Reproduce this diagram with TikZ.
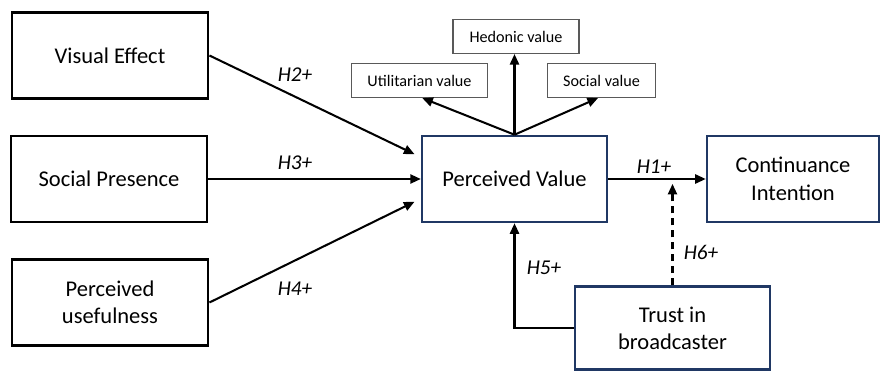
\documentclass[tikz,border=0pt]{standalone}
\usepackage{fontspec}
\setmainfont{Carlito}
\usetikzlibrary{arrows.meta,positioning}
\definecolor{navy}{HTML}{203864}
\definecolor{boxgray}{HTML}{595959}
\tikzset{
  construct/.style={draw=black, line width=2pt, minimum width=4.9cm, minimum height=2.15cm, align=center, font=\fontsize{16}{19.5}\selectfont},
  mainbox/.style={draw=navy, line width=1.8pt, minimum height=2.15cm, align=center, font=\fontsize{16}{20}\selectfont},
  valuebox/.style={draw=boxgray, line width=0.8pt, minimum height=0.85cm, align=center, font=\fontsize{11.5}{14}\selectfont},
  hyp/.style={font=\fontsize{15}{18}\selectfont\itshape},
  link/.style={line width=1.45pt, -{Triangle[length=7.5pt,width=6.5pt]}}
}
\begin{document}
\begin{tikzpicture}[x=0.025cm, y=-0.025cm]
\useasboundingbox (0,0) rectangle (882,372);

% Antecedents
\node[construct] (visual) at (110,55.5) {Visual Effect};
\node[construct] (presence) at (109,179) {Social Presence};
\node[construct] (useful) at (110,302.5) {Perceived\\usefulness};

% Perceived value and outcome
\node[mainbox, minimum width=4.62cm] (value) at (514.5,179) {Perceived Value};
\node[mainbox, minimum width=4.3cm] (intention) at (793,179) {Continuance\\Intention};
\node[mainbox, minimum width=4.87cm, minimum height=2.08cm, font=\fontsize{16}{19}\selectfont] (trust) at (672.5,328) {Trust in\\broadcaster};

% Value dimensions
\node[valuebox, minimum width=3.15cm] (hedonic) at (516,36.5) {Hedonic value};
\node[valuebox, minimum width=3.42cm] (utilitarian) at (419.5,80.5) {Utilitarian value};
\node[valuebox, minimum width=2.72cm] (socval) at (601.5,80.5) {Social value};

% Hypotheses
\draw[link, shorten >=5pt] (visual.east) -- ([yshift=15.5pt]value.west);
\draw[link] (presence.east) -- (value.west);
\draw[link, shorten >=5pt] (useful.east) -- ([yshift=-14pt]value.west);
\draw[link] (value.east) -- (intention.west);
\draw[link] (trust.west) -| (value.south);
\draw[link, dash pattern=on 5pt off 3.5pt] (trust.north) -- ([yshift=-3.5pt]trust.north |- value.east);

% Dimensions of value
\draw[link] (value.north) -- ([xshift=2pt]utilitarian.south);
\draw[link] (value.north) -- (hedonic.south -| value.north);
\draw[link] (value.north) -- ([xshift=-2.5pt]socval.south);

% Labels
\node[hyp] (h2) at (295,75) {H2+};
\node[hyp] (h3) at (295,163) {H3+};
\node[hyp] (h4) at (295,289) {H4+};
\node[hyp] (h1) at (654,167) {H1+};
\node[hyp] (h5) at (544,268) {H5+};
\node[hyp] (h6) at (701,252) {H6+};
\end{tikzpicture}
\end{document}
